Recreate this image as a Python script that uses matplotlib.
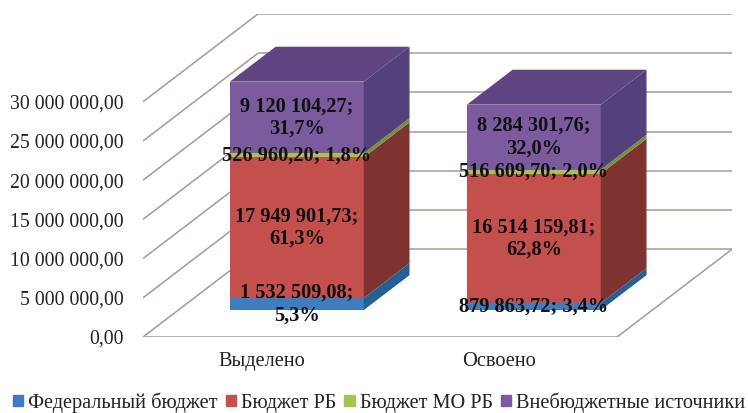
import matplotlib
matplotlib.use('Agg')
from matplotlib import pyplot as plt
from matplotlib.patches import Patch

plt.rcParams['font.family'] = ['Liberation Serif', 'DejaVu Serif']

categories = ['Выделено', 'Освоено']
series_names = ['Федеральный бюджет', 'Бюджет РБ', 'Бюджет МО РБ', 'Внебюджетные источники']
federal = [1532509.08, 879863.72]
republic = [17949901.73, 16514159.81]
municipal = [526960.20, 516609.70]
external = [9120104.27, 8284301.76]
federal_labels = ['1 532 509,08;\n5,3%', '879 863,72; 3,4%']
republic_labels = ['17 949 901,73;\n61,3%', '16 514 159,81;\n62,8%']
municipal_labels = ['526 960,20; 1,8%', '516 609,70; 2,0%']
external_labels = ['9 120 104,27;\n31,7%', '8 284 301,76;\n32,0%']
y_ticks = [0, 5000000, 10000000, 15000000, 20000000, 25000000, 30000000]
y_tick_labels = ['0,00', '5 000 000,00', '10 000 000,00', '15 000 000,00',
                 '20 000 000,00', '25 000 000,00', '30 000 000,00']

front_colors = ['#3f7cc0', '#c4504d', '#a4c650', '#7b5a9e']
side_colors = ['#265f94', '#7f3330', '#6f9440', '#54407a']
top_color = '#5f4682'
grid_color = '#a89a92'

# fake 3d: how far the back wall is shifted from the front plane
depth_x = 0.485
depth_y = 11190000
bar_width = 0.565
bar_near = 0.307
bar_far = 0.705


def project(x, y, d):
    return x + d * depth_x, y + d * depth_y


def face(ax, corners, color, z):
    pts = [project(*c) for c in corners]
    ax.fill([p[0] for p in pts], [p[1] for p in pts], color=color, lw=0, zorder=z)


def line3d(ax, a, b):
    pa = project(*a)
    pb = project(*b)
    ax.plot([pa[0], pb[0]], [pa[1], pb[1]], color=grid_color, lw=1.1, zorder=1,
            solid_capstyle='butt')


W, H = 748, 413
fig = plt.figure(figsize=(W / 100, H / 100), dpi=100)
ax = fig.add_axes([143 / W, (H - 337) / H, (732 - 143) / W, (337 - 14) / H])
ax.set_xlim(0, 2 + depth_x)
ax.set_ylim(0, 30000000 + depth_y)
for s in ax.spines.values():
    s.set_visible(False)
ax.patch.set_visible(False)

# walls and floor
for t in y_ticks:
    line3d(ax, (0, t, 0), (0, t, 1))
    line3d(ax, (0, t, 1), (2, t, 1))
line3d(ax, (0, 0, 0), (2, 0, 0))
line3d(ax, (2, 0, 0), (2, 0, 1))

ax.set_yticks(y_ticks)
ax.set_yticklabels(y_tick_labels, fontsize=14.2, color='#222222')
ax.set_xticks([0.5, 1.5])
ax.set_xticklabels(categories, fontsize=14.7, color='#222222')
ax.tick_params(axis='y', length=0, pad=14)
ax.tick_params(axis='x', length=0, pad=11)

stacks = [federal, republic, municipal, external]
labels = [federal_labels, republic_labels, municipal_labels, external_labels]

for i in range(len(categories)):
    x0 = i + 0.5 - bar_width / 2
    x1 = i + 0.5 + bar_width / 2
    base = 0
    for j in range(len(stacks)):
        top = base + stacks[j][i]
        face(ax, [(x0, base, bar_near), (x1, base, bar_near), (x1, top, bar_near), (x0, top, bar_near)],
             front_colors[j], 3)
        face(ax, [(x1, base, bar_near), (x1, base, bar_far), (x1, top, bar_far), (x1, top, bar_near)],
             side_colors[j], 3)
        cx, cy = project(i + 0.5, base + stacks[j][i] / 2, bar_near)
        ax.text(cx, cy, labels[j][i], ha='center', va='center', fontsize=14.7,
                fontweight='bold', color='#111111', linespacing=1.15, zorder=6)
        base = top
    face(ax, [(x0, base, bar_near), (x1, base, bar_near), (x1, base, bar_far), (x0, base, bar_far)],
         top_color, 3)

handles = [Patch(color=c) for c in front_colors]
fig.legend(handles, series_names, loc='center', bbox_to_anchor=(379 / W, 1 - 402.5 / H), ncol=4,
           frameon=False, fontsize=14.6, handlelength=0.5, handleheight=0.5,
           handletextpad=0.25, columnspacing=0.4, borderpad=0, labelcolor='#222222')

fig.savefig('out.png', dpi=100)
